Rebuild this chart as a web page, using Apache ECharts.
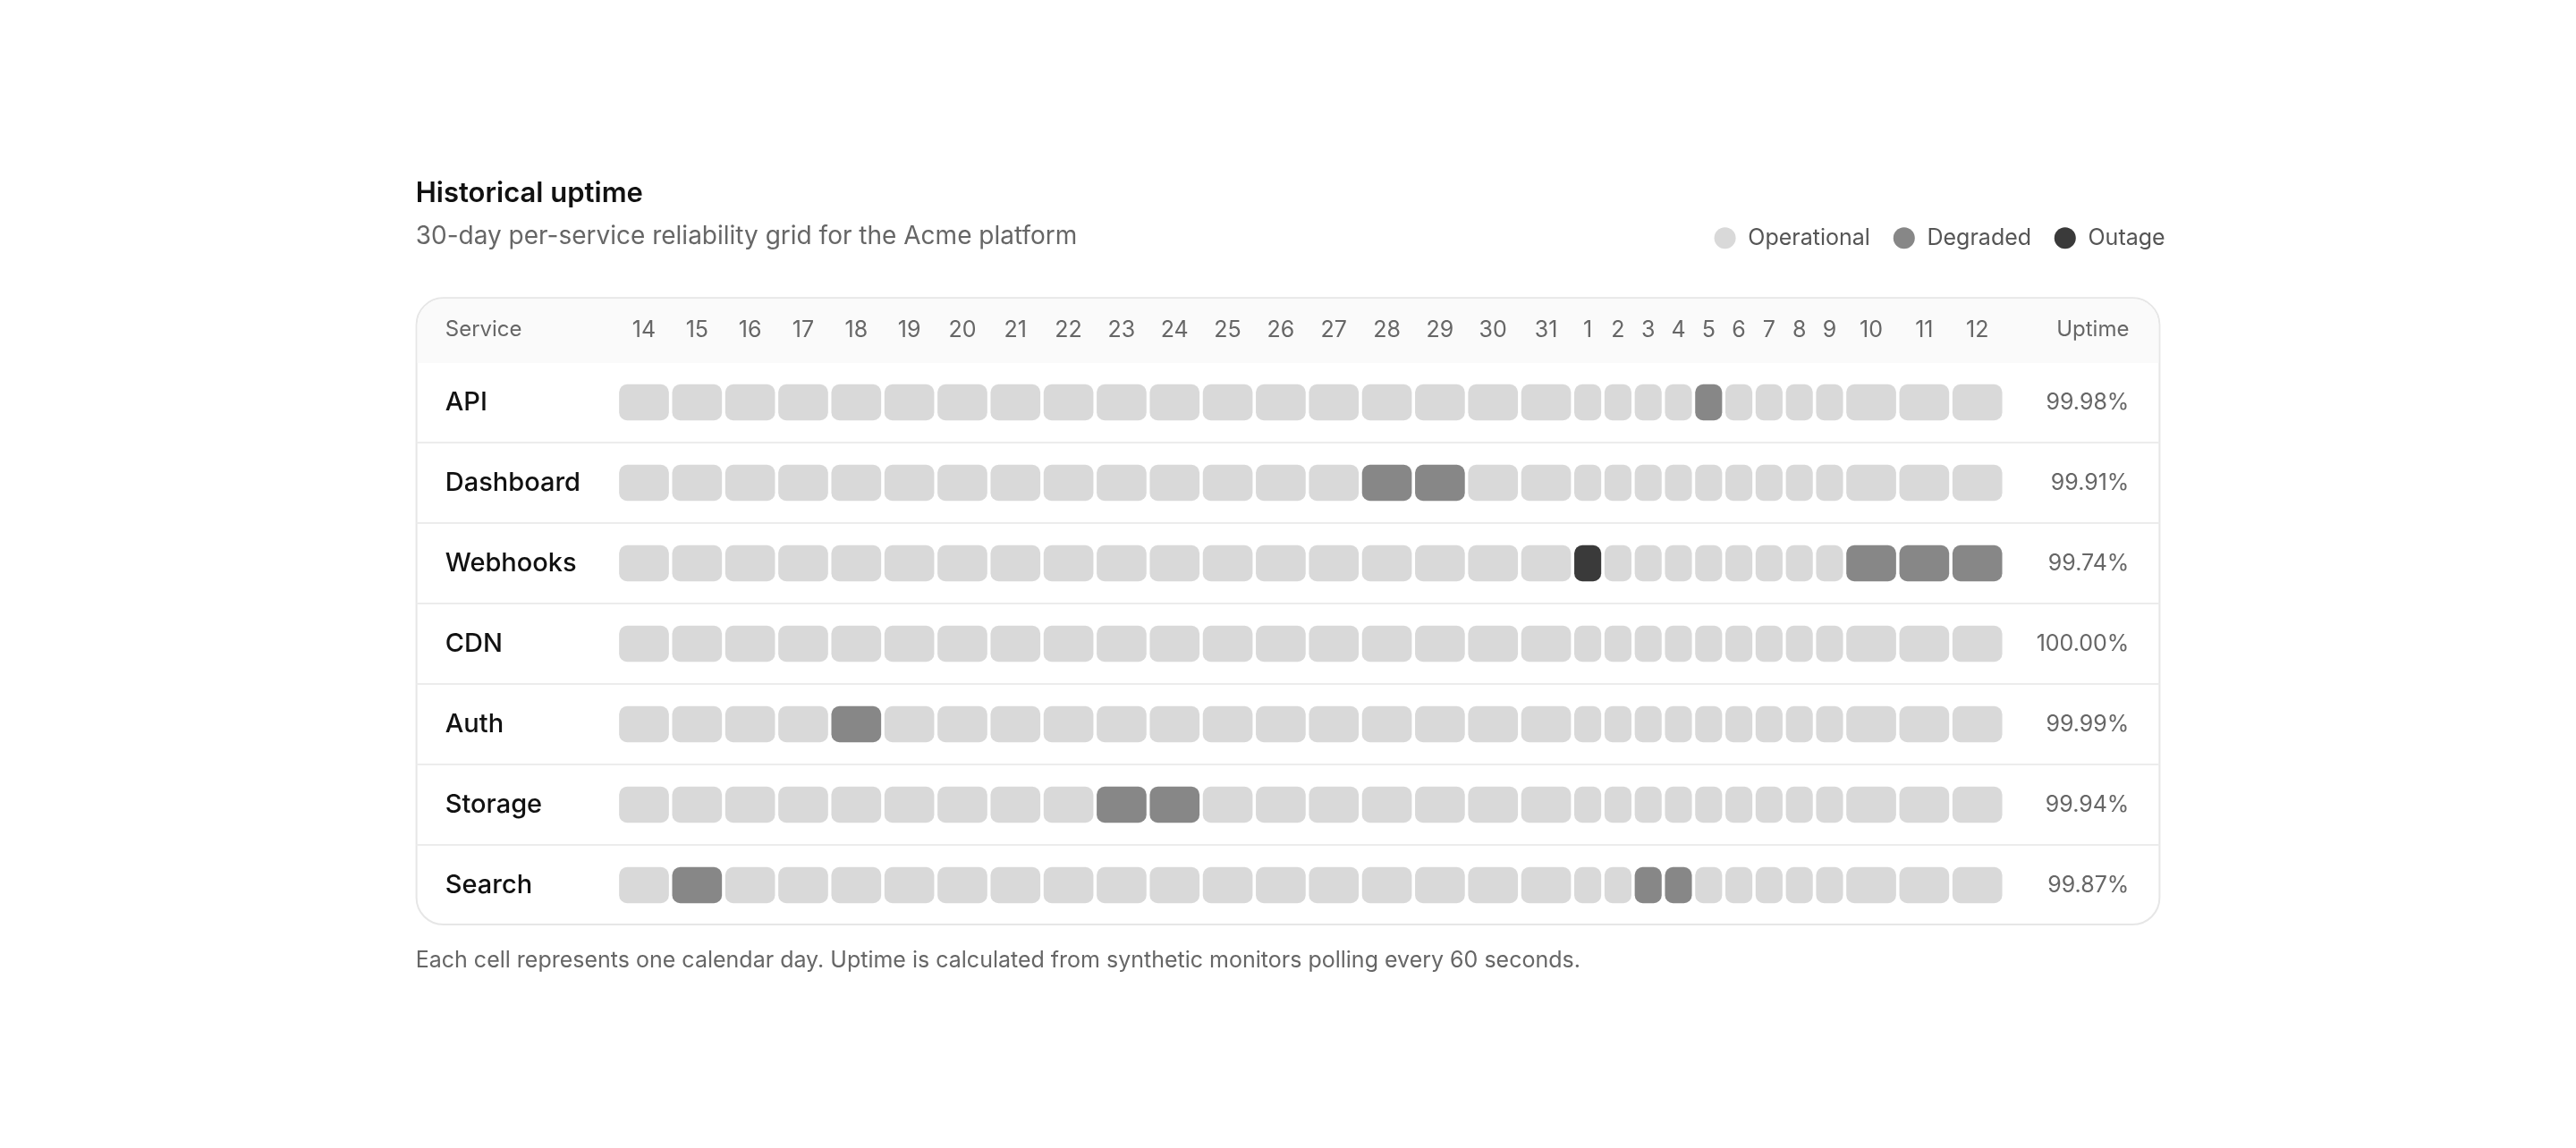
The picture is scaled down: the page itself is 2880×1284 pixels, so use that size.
<!DOCTYPE html>
<html><head><meta charset="utf-8">
<script src="https://cdn.jsdelivr.net/npm/echarts@6/dist/echarts.min.js"></script>
<style>html,body{margin:0;padding:0;background:#fff}#c{width:2880px;height:1284px}</style>
</head><body><div id="c"></div>
<script>
const days = ['14','15','16','17','18','19','20','21','22','23','24','25','26','27','28','29','30','31','1','2','3','4','5','6','7','8','9','10','11','12'];
const services = ['API','Dashboard','Webhooks','CDN','Auth','Storage','Search'];
const uptime = ['99.98%','99.91%','99.74%','100.00%','99.99%','99.94%','99.87%'];
// incidents: [service, day, status] ; all other days operational
const incidents = [
  ['API','5','Degraded'],
  ['Dashboard','28','Degraded'],['Dashboard','29','Degraded'],
  ['Webhooks','1','Outage'],['Webhooks','10','Degraded'],['Webhooks','11','Degraded'],['Webhooks','12','Degraded'],
  ['Auth','18','Degraded'],
  ['Storage','23','Degraded'],['Storage','24','Degraded'],
  ['Search','15','Degraded'],['Search','3','Degraded'],['Search','4','Degraded']
];
const statusColors = {Operational:'#d9d9d9', Degraded:'#878787', Outage:'#3a3a3a'};

const S = 2880/1568;           // layout unit -> px
const W = 1568, H = 1284/S;
const font = 'Inter, "Noto Sans", sans-serif';
// column layout: width by label length
const colW = d => d.length === 1 ? 18.4 : 32.3;
const centers = []; let xx = 392 - colW(days[0])/2;
days.forEach(d => { centers.push(xx + colW(d)/2); xx += colW(d); });
const rowY = i => 245 + i*49;

const cells = [];
services.forEach((s, i) => days.forEach((d, j) => {
  const inc = incidents.find(a => a[0] === s && a[1] === d);
  cells.push([centers[j], rowY(i), colW(d) - 2, inc ? inc[2] : 'Operational']);
}));
const texts = [];
texts.push([271, 201, 'Service', 'left', 24, '#666', 400]);
days.forEach((d, j) => texts.push([centers[j], 201, d, 'center', 25, '#666', 400]));
texts.push([1296, 201, 'Uptime', 'right', 24, '#666', 400]);
services.forEach((s, i) => {
  texts.push([271, rowY(i), s, 'left', 29, '#111', 500]);
  texts.push([1296, rowY(i), uptime[i], 'right', 25, '#666', 400]);
});
texts.push([253, 118, 'Historical uptime', 'left', 31, '#111', 600]);
texts.push([253, 144, '30-day per-service reliability grid for the Acme platform', 'left', 28, '#666', 400]);
texts.push([253, 585, 'Each cell represents one calendar day. Uptime is calculated from synthetic monitors polling every 60 seconds.', 'left', 25, '#666', 400]);
const legend = [[1050,'Operational'],[1159,'Degraded'],[1257,'Outage']];
legend.forEach(l => texts.push([l[0]+14, 145, l[1], 'left', 25, '#555', 400]));

const chart = echarts.init(document.getElementById('c'));
chart.setOption({
  animation:false,
  grid:{left:0,right:0,top:0,bottom:0},
  xAxis:{type:'value',min:0,max:W,show:false},
  yAxis:{type:'value',min:0,max:H,inverse:true,show:false},
  series:[
    {type:'custom', data:[[0]], z:1, renderItem:(p, api) => {
      const tl = api.coord([253.5,181.5]), br = api.coord([1314.5,563]);
      const hb = api.coord([0,221]);
      const ch = [
        {type:'rect', shape:{x:tl[0],y:tl[1],width:br[0]-tl[0],height:br[1]-tl[1],r:30}, style:{fill:'#fff',stroke:'#e6e6e6',lineWidth:2}},
        {type:'rect', shape:{x:tl[0]+1,y:tl[1]+1,width:br[0]-tl[0]-2,height:hb[1]-tl[1]-1,r:[29,29,0,0]}, style:{fill:'#fafafa'}}
      ];
      for (let i=0;i<services.length-1;i++){
        const y = api.coord([0,rowY(i)+24.5])[1];
        ch.push({type:'line', shape:{x1:tl[0],y1:y,x2:br[0],y2:y}, style:{stroke:'#ececec',lineWidth:2}});
      }
      legend.forEach(l => { const c = api.coord([l[0],145]); ch.push({type:'circle', shape:{cx:c[0],cy:c[1],r:12}, style:{fill:statusColors[l[1]]}}); });
      return {type:'group', children:ch};
    }},
    {type:'custom', data:cells, z:2, renderItem:(p, api) => {
      const c = cells[p.dataIndex];
      const ctr = api.coord([c[0], c[1]]);
      const sz = api.size([c[2], 22]);
      return {type:'rect', shape:{x:ctr[0]-sz[0]/2, y:ctr[1]-sz[1]/2, width:sz[0], height:sz[1], r:9}, style:{fill:statusColors[c[3]]}};
    }},
    {type:'custom', data:texts, z:3, renderItem:(p, api) => {
      const t = texts[p.dataIndex];
      const c = api.coord([t[0], t[1]]);
      return {type:'text', x:c[0], y:c[1], style:{text:t[2], align:t[3], verticalAlign:'middle', fontSize:t[4], fill:t[5], fontWeight:t[6], fontFamily:font}};
    }}
  ]
});
</script></body></html>
